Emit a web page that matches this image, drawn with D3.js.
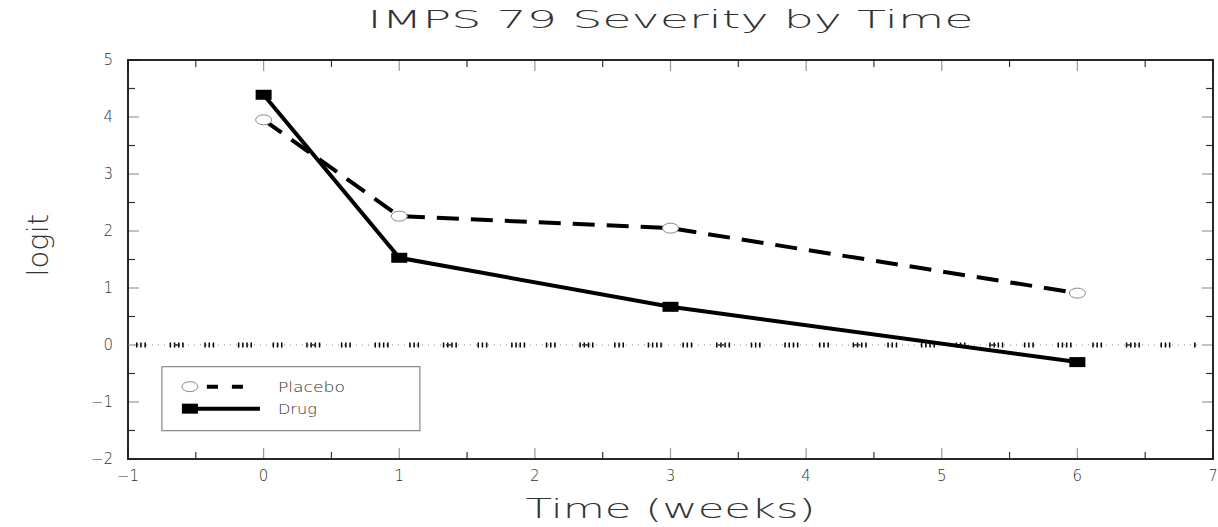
<!DOCTYPE html>
<html>
<head>
<meta charset="utf-8">
<script src="https://cdn.jsdelivr.net/npm/d3@7"></script>
<style>
  body { margin: 0; background: #fff; }
  text { font-family: "DejaVu Sans", sans-serif; font-weight: 200; fill: #333; }
</style>
</head>
<body>
<div id="chart"></div>
<script>
// Values
const weeks = [0, 1, 3, 6];
const placebo = [3.95, 2.26, 2.05, 0.91];
const drug = [4.39, 1.53, 0.67, -0.30];
const seriesNames = ["Placebo", "Drug"];
const xTicks = [-1, 0, 1, 2, 3, 4, 5, 6, 7];
const yTicks = [-2, -1, 0, 1, 2, 3, 4, 5];

const margin = {top: 60, right: 5, bottom: 68, left: 128},
    totalWidth = 1218,
    totalHeight = 527,
    width = totalWidth - margin.left - margin.right,
    height = totalHeight - margin.top - margin.bottom,
    majorTick = 11,
    minorTick = 7,
    lineWidth = 4;

const svg = d3.select("#chart").append("svg")
    .attr("width", totalWidth)
    .attr("height", totalHeight)
    .append("g")
    .attr("transform", "translate(" + margin.left + "," + margin.top + ")");

const x = d3.scaleLinear().domain([-1, 7]).range([0, width]);
const y = d3.scaleLinear().domain([-2, 5]).range([height, 0]);

// minor ticks at every half unit
const xHalf = d3.range(-1, 7.01, 0.5);
const yHalf = d3.range(-2, 5.01, 0.5);
const isMajor = v => Math.abs(v - Math.round(v)) < 1e-6;

// ticks inside the frame on all four sides
const ticks = svg.append("g");
xHalf.forEach(v => {
    let len = isMajor(v) ? majorTick : minorTick;
    let col = isMajor(v) ? "#999" : "#333";
    ticks.append("line").attr("x1", x(v)).attr("x2", x(v)).attr("y1", height).attr("y2", height - len)
        .style("stroke", col).style("stroke-width", 1.2);
    ticks.append("line").attr("x1", x(v)).attr("x2", x(v)).attr("y1", 0).attr("y2", len)
        .style("stroke", col).style("stroke-width", 1.2);
});
yHalf.forEach(v => {
    let len = isMajor(v) ? majorTick : minorTick;
    let col = isMajor(v) ? "#999" : "#333";
    ticks.append("line").attr("x1", 0).attr("x2", len).attr("y1", y(v)).attr("y2", y(v))
        .style("stroke", col).style("stroke-width", 1.2);
    ticks.append("line").attr("x1", width).attr("x2", width - len).attr("y1", y(v)).attr("y2", y(v))
        .style("stroke", col).style("stroke-width", 1.2);
});

// frame
svg.append("rect")
    .attr("width", width)
    .attr("height", height)
    .style("fill", "none")
    .style("stroke", "#111")
    .style("stroke-width", 1.8);

// tick labels
svg.append("g").selectAll("text")
    .data(xTicks)
    .enter().append("text")
    .attr("x", d => x(d))
    .attr("y", height + 22)
    .attr("text-anchor", "middle")
    .style("font-size", "15px")
    .text(d => d < 0 ? "\u2212" + Math.abs(d) : d);

svg.append("g").selectAll("text")
    .data(yTicks)
    .enter().append("text")
    .attr("x", -15)
    .attr("y", d => y(d))
    .attr("dy", "0.35em")
    .attr("text-anchor", "end")
    .style("font-size", "15px")
    .text(d => d < 0 ? "\u2212" + Math.abs(d) : d);

// zero reference line: dotted base, groups of short vertical marks, a few short dashes
const zeroEnd = width - 16;
svg.append("line")
    .attr("x1", 0).attr("x2", zeroEnd)
    .attr("y1", y(0)).attr("y2", y(0))
    .style("stroke", "#888")
    .style("stroke-width", 1)
    .style("stroke-dasharray", "1,5");
svg.append("line")
    .attr("x1", 0).attr("x2", zeroEnd)
    .attr("y1", y(0)).attr("y2", y(0))
    .style("stroke", "#000")
    .style("stroke-width", 5)
    .style("stroke-dasharray", "1.5,2.7,1.5,2.7,1.5,23.7,1.5,2.7,1.5,2.7,1.5,2.7,1.5,20.6")
    .style("stroke-dashoffset", -8);
svg.append("line")
    .attr("x1", 0).attr("x2", zeroEnd)
    .attr("y1", y(0)).attr("y2", y(0))
    .style("stroke", "#333")
    .style("stroke-width", 1.3)
    .style("stroke-dasharray", "6,130")
    .style("stroke-dashoffset", -46);

// series lines
const line = d3.line()
    .x((d, i) => x(weeks[i]))
    .y(d => y(d));

svg.append("path")
    .datum(placebo)
    .attr("d", line)
    .style("fill", "none")
    .style("stroke", "#000")
    .style("stroke-width", lineWidth)
    .style("stroke-dasharray", "22,12");

svg.append("path")
    .datum(drug)
    .attr("d", line)
    .style("fill", "none")
    .style("stroke", "#000")
    .style("stroke-width", lineWidth);

// markers
svg.append("g").selectAll("ellipse")
    .data(placebo)
    .enter().append("ellipse")
    .attr("cx", (d, i) => x(weeks[i]))
    .attr("cy", d => y(d))
    .attr("rx", 8)
    .attr("ry", 5)
    .style("fill", "#fff")
    .style("stroke", "#888")
    .style("stroke-width", 1);

svg.append("g").selectAll("rect")
    .data(drug)
    .enter().append("rect")
    .attr("x", (d, i) => x(weeks[i]) - 8)
    .attr("y", d => y(d) - 5)
    .attr("width", 16)
    .attr("height", 10)
    .style("fill", "#000");

// legend
const legend = svg.append("g")
    .attr("transform", "translate(" + (x(-0.75)) + "," + (y(-0.38)) + ")");

legend.append("rect")
    .attr("width", 258)
    .attr("height", 64)
    .style("fill", "#fff")
    .style("stroke", "#888")
    .style("stroke-width", 1.2);

const rowY = [20, 42];
legend.append("line")
    .attr("x1", 20).attr("x2", 82).attr("y1", rowY[0]).attr("y2", rowY[0])
    .style("stroke", "#000").style("stroke-width", lineWidth)
    .style("stroke-dasharray", "0,25,11,14,11,30");
legend.append("ellipse")
    .attr("cx", 28).attr("cy", rowY[0]).attr("rx", 8).attr("ry", 5)
    .style("fill", "#fff").style("stroke", "#888");
legend.append("line")
    .attr("x1", 28).attr("x2", 98).attr("y1", rowY[1]).attr("y2", rowY[1])
    .style("stroke", "#000").style("stroke-width", lineWidth);
legend.append("rect")
    .attr("x", 20).attr("y", rowY[1] - 5).attr("width", 16).attr("height", 10)
    .style("fill", "#000");

legend.selectAll("text.name")
    .data(seriesNames)
    .enter().append("text")
    .attr("x", 116)
    .attr("y", (d, i) => rowY[i])
    .attr("dy", "0.35em")
    .attr("textLength", (d, i) => i === 0 ? 67 : 39)
    .attr("lengthAdjust", "spacingAndGlyphs")
    .style("font-size", "14px")
    .text(d => d);

// titles
svg.append("text")
    .attr("x", width / 2)
    .attr("y", -32)
    .attr("text-anchor", "middle")
    .attr("textLength", 606)
    .attr("lengthAdjust", "spacingAndGlyphs")
    .style("font-size", "25px")
    .text("IMPS 79 Severity by Time");

svg.append("text")
    .attr("x", width / 2)
    .attr("y", height + 59)
    .attr("text-anchor", "middle")
    .attr("textLength", 290)
    .attr("lengthAdjust", "spacingAndGlyphs")
    .style("font-size", "27px")
    .text("Time (weeks)");

svg.append("text")
    .attr("transform", "translate(" + (-80) + "," + y(1.75) + ") rotate(-90)")
    .attr("text-anchor", "middle")
    .style("font-size", "29px")
    .text("logit");
</script>
</body>
</html>
